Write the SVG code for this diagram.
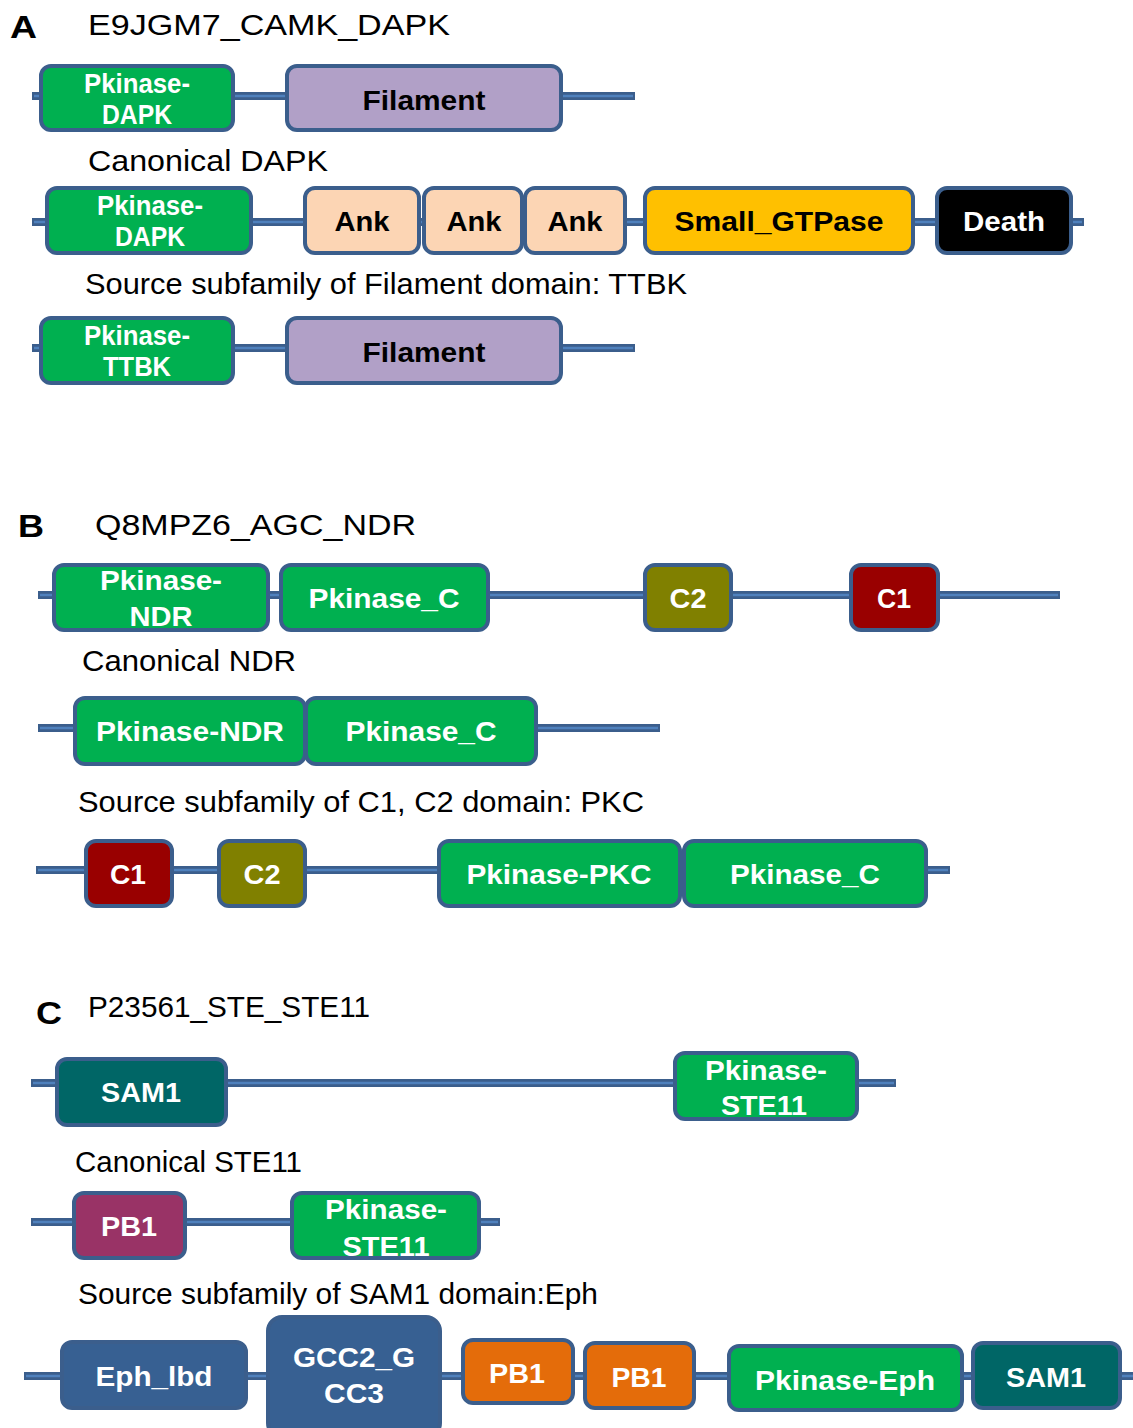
<svg xmlns="http://www.w3.org/2000/svg" width="1133" height="1428" viewBox="0 0 1133 1428">
<style>
.bo{stroke:#3b5e8c;stroke-width:8;stroke-linecap:butt}
.bi{stroke:#4f81bd;stroke-width:2.5}
.d{stroke:#3b5e8c;stroke-width:4}
.t{font-family:"Liberation Sans",Arial,sans-serif;font-size:30px;fill:#000}
.h{font-family:"Liberation Sans",Arial,sans-serif;font-size:32px;font-weight:bold;fill:#000}
.l{font-family:"Liberation Sans",Arial,sans-serif;font-size:28px;font-weight:bold;fill:#fff;text-anchor:middle}
.k{fill:#000}
.g{fill:#00b050}.fi{fill:#b1a0c7}.an{fill:#fcd5b4}.sg{fill:#ffc000}.de{fill:#000}
.c2{fill:#808000}.c1{fill:#990000}.sa{fill:#006666}.pbm{fill:#993366}.bl{fill:#376092}.or{fill:#e46c0a}
</style>
<g id="backbones">
<line class="bo" x1="32" y1="96" x2="635" y2="96"/><line class="bi" x1="34" y1="96" x2="633" y2="96"/>
<line class="bo" x1="32" y1="222" x2="1084" y2="222"/><line class="bi" x1="34" y1="222" x2="1082" y2="222"/>
<line class="bo" x1="32" y1="348" x2="635" y2="348"/><line class="bi" x1="34" y1="348" x2="633" y2="348"/>
<line class="bo" x1="38" y1="595" x2="1060" y2="595"/><line class="bi" x1="40" y1="595" x2="1058" y2="595"/>
<line class="bo" x1="38" y1="728" x2="660" y2="728"/><line class="bi" x1="40" y1="728" x2="658" y2="728"/>
<line class="bo" x1="36" y1="870" x2="950" y2="870"/><line class="bi" x1="38" y1="870" x2="948" y2="870"/>
<line class="bo" x1="31" y1="1083" x2="896" y2="1083"/><line class="bi" x1="33" y1="1083" x2="894" y2="1083"/>
<line class="bo" x1="31" y1="1222" x2="500" y2="1222"/><line class="bi" x1="33" y1="1222" x2="498" y2="1222"/>
<line class="bo" x1="24" y1="1376" x2="1133" y2="1376"/><line class="bi" x1="26" y1="1376" x2="1133" y2="1376"/>
</g>
<g id="labels">
<text class="h" x="10" y="38" textLength="27" lengthAdjust="spacingAndGlyphs">A</text>
<text class="t" x="88" y="35" textLength="362" lengthAdjust="spacingAndGlyphs">E9JGM7_CAMK_DAPK</text>
<text class="t" x="88" y="171" textLength="240" lengthAdjust="spacingAndGlyphs">Canonical DAPK</text>
<text class="t" x="85" y="294" textLength="602" lengthAdjust="spacingAndGlyphs">Source subfamily of Filament domain: TTBK</text>
<text class="h" x="18" y="537" textLength="26" lengthAdjust="spacingAndGlyphs">B</text>
<text class="t" x="95" y="535" textLength="321" lengthAdjust="spacingAndGlyphs">Q8MPZ6_AGC_NDR</text>
<text class="t" x="82" y="671" textLength="214" lengthAdjust="spacingAndGlyphs">Canonical NDR</text>
<text class="t" x="78" y="812" textLength="566" lengthAdjust="spacingAndGlyphs">Source subfamily of C1, C2 domain: PKC</text>
<text class="h" x="36" y="1024" textLength="26" lengthAdjust="spacingAndGlyphs">C</text>
<text class="t" x="88" y="1017" textLength="282" lengthAdjust="spacingAndGlyphs">P23561_STE_STE11</text>
<text class="t" x="75" y="1172" textLength="227" lengthAdjust="spacingAndGlyphs">Canonical STE11</text>
<text class="t" x="78" y="1304" textLength="520" lengthAdjust="spacingAndGlyphs">Source subfamily of SAM1 domain:Eph</text>
</g>
<g id="a1-pkinase-dapk"><rect class="d g" x="41" y="66" width="192" height="64" rx="10"/><text class="l" x="137" y="93" textLength="106" lengthAdjust="spacingAndGlyphs">Pkinase-</text><text class="l" x="137" y="124" textLength="70" lengthAdjust="spacingAndGlyphs">DAPK</text></g>
<g id="a1-filament"><rect class="d fi" x="287" y="66" width="274" height="64" rx="10"/><text class="l k" x="424" y="110" textLength="123" lengthAdjust="spacingAndGlyphs">Filament</text></g>
<g id="a2-pkinase-dapk"><rect class="d g" x="47" y="188" width="204" height="65" rx="10"/><text class="l" x="150" y="215" textLength="106" lengthAdjust="spacingAndGlyphs">Pkinase-</text><text class="l" x="150" y="246" textLength="70" lengthAdjust="spacingAndGlyphs">DAPK</text></g>
<g id="a2-ank1"><rect class="d an" x="305" y="188" width="114" height="65" rx="10"/><text class="l k" x="362" y="231" textLength="55" lengthAdjust="spacingAndGlyphs">Ank</text></g>
<g id="a2-ank2"><rect class="d an" x="424" y="188" width="98" height="65" rx="10"/><text class="l k" x="474" y="231" textLength="55" lengthAdjust="spacingAndGlyphs">Ank</text></g>
<g id="a2-ank3"><rect class="d an" x="525" y="188" width="100" height="65" rx="10"/><text class="l k" x="575" y="231" textLength="55" lengthAdjust="spacingAndGlyphs">Ank</text></g>
<g id="a2-small-gtpase"><rect class="d sg" x="645" y="188" width="268" height="65" rx="10"/><text class="l k" x="779" y="231" textLength="209" lengthAdjust="spacingAndGlyphs">Small_GTPase</text></g>
<g id="a2-death"><rect class="d de" x="937" y="188" width="134" height="65" rx="10"/><text class="l" x="1004" y="231" textLength="82" lengthAdjust="spacingAndGlyphs">Death</text></g>
<g id="a3-pkinase-ttbk"><rect class="d g" x="41" y="318" width="192" height="65" rx="10"/><text class="l" x="137" y="345" textLength="106" lengthAdjust="spacingAndGlyphs">Pkinase-</text><text class="l" x="137" y="376" textLength="68" lengthAdjust="spacingAndGlyphs">TTBK</text></g>
<g id="a3-filament"><rect class="d fi" x="287" y="318" width="274" height="65" rx="10"/><text class="l k" x="424" y="362" textLength="123" lengthAdjust="spacingAndGlyphs">Filament</text></g>
<g id="b1-pkinase-ndr"><rect class="d g" x="54" y="565" width="214" height="65" rx="10"/><text class="l" x="161" y="590" textLength="122" lengthAdjust="spacingAndGlyphs">Pkinase-</text><text class="l" x="161" y="626" textLength="63" lengthAdjust="spacingAndGlyphs">NDR</text></g>
<g id="b1-pkinase-c"><rect class="d g" x="281" y="565" width="207" height="65" rx="10"/><text class="l" x="384" y="608" textLength="151" lengthAdjust="spacingAndGlyphs">Pkinase_C</text></g>
<g id="b1-c2"><rect class="d c2" x="645" y="565" width="86" height="65" rx="10"/><text class="l" x="688" y="608" textLength="37" lengthAdjust="spacingAndGlyphs">C2</text></g>
<g id="b1-c1"><rect class="d c1" x="851" y="565" width="87" height="65" rx="10"/><text class="l" x="894" y="608" textLength="34" lengthAdjust="spacingAndGlyphs">C1</text></g>
<g id="b2-pkinase-ndr"><rect class="d g" x="75" y="698" width="230" height="66" rx="10"/><text class="l" x="190" y="741" textLength="188" lengthAdjust="spacingAndGlyphs">Pkinase-NDR</text></g>
<g id="b2-pkinase-c"><rect class="d g" x="306" y="698" width="230" height="66" rx="10"/><text class="l" x="421" y="741" textLength="151" lengthAdjust="spacingAndGlyphs">Pkinase_C</text></g>
<g id="b3-c1"><rect class="d c1" x="86" y="841" width="86" height="65" rx="10"/><text class="l" x="128" y="884" textLength="36" lengthAdjust="spacingAndGlyphs">C1</text></g>
<g id="b3-c2"><rect class="d c2" x="219" y="841" width="86" height="65" rx="10"/><text class="l" x="262" y="884" textLength="37" lengthAdjust="spacingAndGlyphs">C2</text></g>
<g id="b3-pkinase-pkc"><rect class="d g" x="439" y="841" width="241" height="65" rx="10"/><text class="l" x="559" y="884" textLength="185" lengthAdjust="spacingAndGlyphs">Pkinase-PKC</text></g>
<g id="b3-pkinase-c"><rect class="d g" x="684" y="841" width="242" height="65" rx="10"/><text class="l" x="805" y="884" textLength="150" lengthAdjust="spacingAndGlyphs">Pkinase_C</text></g>
<g id="c1-sam1"><rect class="d sa" x="57" y="1059" width="169" height="66" rx="10"/><text class="l" x="141" y="1102" textLength="80" lengthAdjust="spacingAndGlyphs">SAM1</text></g>
<g id="c1-pkinase-ste11"><rect class="d g" x="675" y="1053" width="182" height="66" rx="10"/><text class="l" x="766" y="1080" textLength="122" lengthAdjust="spacingAndGlyphs">Pkinase-</text><text class="l" x="764" y="1115" textLength="86" lengthAdjust="spacingAndGlyphs">STE11</text></g>
<g id="c2-pb1"><rect class="d pbm" x="74" y="1193" width="111" height="65" rx="10"/><text class="l" x="129" y="1236" textLength="56" lengthAdjust="spacingAndGlyphs">PB1</text></g>
<g id="c2-pkinase-ste11"><rect class="d g" x="292" y="1193" width="187" height="65" rx="10"/><text class="l" x="386" y="1219" textLength="122" lengthAdjust="spacingAndGlyphs">Pkinase-</text><text class="l" x="386" y="1256" textLength="87" lengthAdjust="spacingAndGlyphs">STE11</text></g>
<g id="c3-eph-lbd"><rect class="d bl" x="62" y="1342" width="184" height="66" rx="10"/><text class="l" x="154" y="1386" textLength="117" lengthAdjust="spacingAndGlyphs">Eph_lbd</text></g>
<g id="c3-gcc2-gcc3"><rect class="d bl" x="268" y="1317" width="172" height="120" rx="14"/><text class="l" x="354" y="1367" textLength="122" lengthAdjust="spacingAndGlyphs">GCC2_G</text><text class="l" x="354" y="1403" textLength="60" lengthAdjust="spacingAndGlyphs">CC3</text></g>
<g id="c3-pb1-a"><rect class="d or" x="463" y="1340" width="110" height="63" rx="10"/><text class="l" x="517" y="1383" textLength="56" lengthAdjust="spacingAndGlyphs">PB1</text></g>
<g id="c3-pb1-b"><rect class="d or" x="585" y="1343" width="109" height="65" rx="10"/><text class="l" x="639" y="1387" textLength="55" lengthAdjust="spacingAndGlyphs">PB1</text></g>
<g id="c3-pkinase-eph"><rect class="d g" x="729" y="1346" width="233" height="64" rx="10"/><text class="l" x="845" y="1390" textLength="180" lengthAdjust="spacingAndGlyphs">Pkinase-Eph</text></g>
<g id="c3-sam1"><rect class="d sa" x="973" y="1343" width="147" height="65" rx="10"/><text class="l" x="1046" y="1387" textLength="80" lengthAdjust="spacingAndGlyphs">SAM1</text></g>
</svg>
